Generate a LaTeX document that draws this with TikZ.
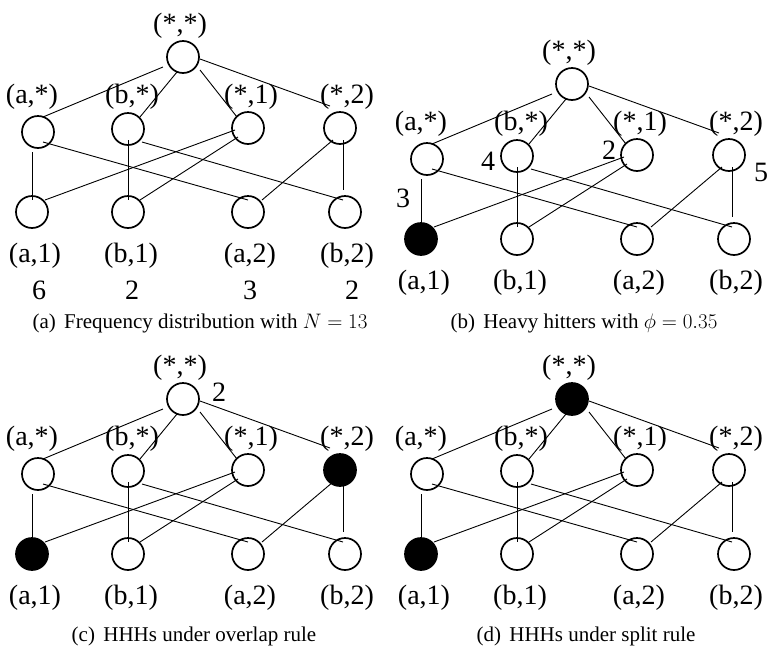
\documentclass[tikz,border=0pt]{standalone}
\usepackage{fix-cm}
\usepackage{fontspec}
\setmainfont{Liberation Serif}
\usetikzlibrary{calc}
\tikzset{
  vtx/.style={circle, draw, line width=1.7pt, minimum size=32pt, inner sep=0pt},
  vfill/.style={fill=black},
  vopen/.style={},
  link/.style={line width=0.9pt},
  lbl/.style={font=\fontsize{28}{30}\selectfont, inner sep=0pt},
  captxt/.style={font=\fontsize{21}{24}\selectfont, inner sep=0pt},
}
\newcommand\hhpanel[6]{%
  \begin{scope}[shift={(#2,#3)}]
    \node[vtx,#4] (#1T)  at (183,57)  {};
    \node[vtx]    (#1As) at (38,132)  {};
    \node[vtx]    (#1Bs) at (128,129) {};
    \node[vtx]    (#1Sa) at (248,128) {};
    \node[vtx,#5] (#1Sb) at (340,128) {};
    \node[vtx,#6] (#1Aa) at (32,212)  {};
    \node[vtx]    (#1Ba) at (128,212) {};
    \node[vtx]    (#1Ab) at (248,212) {};
    \node[vtx]    (#1Bb) at (345,212) {};
    \node[lbl] (#1lT)  at (180,26)  {(*,*)};
    \node[lbl] (#1lAs) at (32,97)   {(a,*)};
    \node[lbl] (#1lBs) at (132,97)  {(b,*)};
    \node[lbl] (#1lSa) at (251,97)  {(*,1)};
    \node[lbl] (#1lSb) at (347,97)  {(*,2)};
    \node[lbl] (#1lAa) at (35,256)  {(a,1)};
    \node[lbl] (#1lBa) at (131,256) {(b,1)};
    \node[lbl] (#1lAb) at (250,256) {(a,2)};
    \node[lbl] (#1lBb) at (347,256) {(b,2)};
  \end{scope}
  \draw[link] ($(#1T)+(-20,10)$) -- ($(#1As)+(5,-15)$);
  \draw[link] ($(#1T)+(-6,15)$)  -- ($(#1Bs)+(12,-12)$);
  \draw[link] ($(#1T)+(17,13)$)  -- ($(#1Sa)+(-11,-11)$);
  \draw[link] ($(#1T)+(17,2)$)   -- ($(#1Sb)+(-10,-22)$);
  \draw[link] ($(#1As)+(5,10)$)  -- ($(#1Ab)+(0,-12)$);
  \draw[link] ($(#1As)+(-6,20)$) -- ($(#1Aa)+(0,-12)$);
  \draw[link] ($(#1Bs)+(0,11)$)  -- ($(#1Ba)+(0,-12)$);
  \draw[link] ($(#1Bs)+(14,13)$) -- ($(#1Bb)+(-2,-12)$);
  \draw[link] ($(#1Sa)+(-13,2)$) -- ($(#1Aa)+(13,-12)$);
  \draw[link] ($(#1Sa)+(-10,9)$) -- ($(#1Ba)+(12,-12)$);
  \draw[link] ($(#1Sb)+(-7,12)$) -- ($(#1Ab)+(14,-12)$);
  \draw[link] ($(#1Sb)+(3,12)$)  -- ($(#1Bb)+(-2,-22)$);
}
\begin{document}
\begin{tikzpicture}[x=1pt,y=-1pt]
  \useasboundingbox (0,0) rectangle (769,646);
  % panel (a)
  \hhpanel{a}{0}{0}{vopen}{vopen}{vopen}
  \node[lbl] (na1) at (39,290)  {6};
  \node[lbl] (na2) at (132,290) {2};
  \node[lbl] (na3) at (250,290) {3};
  \node[lbl] (na4) at (352,290) {2};
  \node[captxt] (capa) at (200,323) {(a)\hspace{0.4em}Frequency distribution with $N=13$};
  % panel (b)
  \hhpanel{b}{389}{27}{vopen}{vopen}{vfill}
  \node[lbl] (nb1) at (403,198) {3};
  \node[lbl] (nb2) at (488,161) {4};
  \node[lbl] (nb3) at (609,150) {2};
  \node[lbl] (nb4) at (761,172) {5};
  \node[captxt] (capb) at (584,323) {(b)\hspace{0.4em}Heavy hitters with $\phi=0.35$};
  % panel (c)
  \hhpanel{c}{0}{342}{vopen}{vfill}{vfill}
  \node[lbl] (nc1) at (219,392) {2};
  \node[captxt] (capc) at (194,636) {(c)\hspace{0.4em}HHHs under overlap rule};
  % panel (d)
  \hhpanel{d}{389}{342}{vfill}{vopen}{vfill}
  \node[captxt] (capd) at (586,636) {(d)\hspace{0.4em}HHHs under split rule};
\end{tikzpicture}
\end{document}
